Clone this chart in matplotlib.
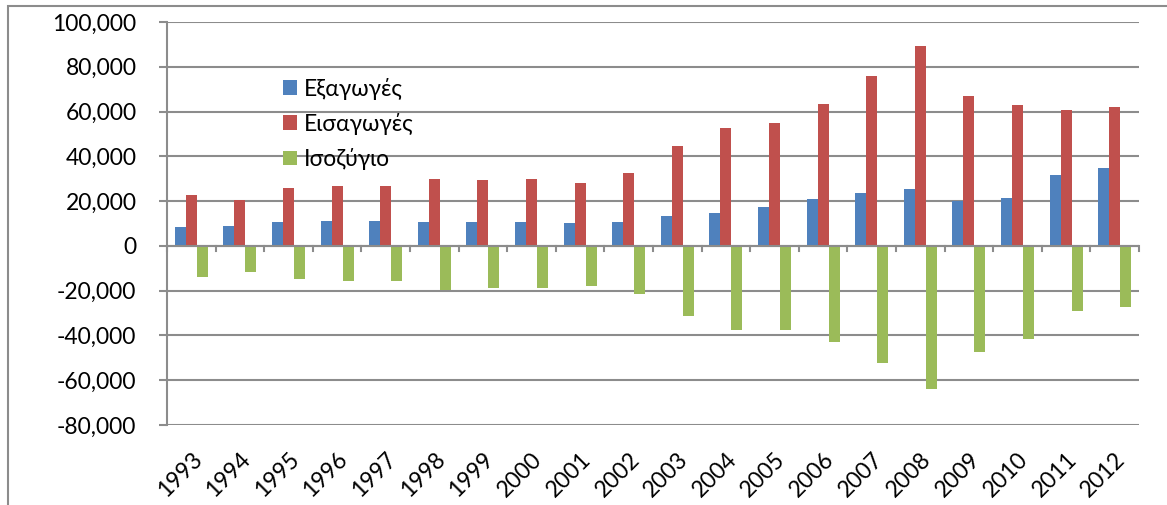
import numpy as np
import matplotlib.pyplot as plt
from matplotlib.patches import Rectangle
from matplotlib.ticker import FuncFormatter

years = [str(y) for y in range(1993, 2013)]
exports = [8.6, 9.1, 10.8, 11.2, 11.2, 10.7, 10.6, 10.6, 10.0, 10.6,
           13.4, 14.9, 17.3, 20.8, 23.4, 25.3, 20.0, 21.4, 31.5, 34.9]
imports = [22.8, 20.7, 25.7, 26.9, 26.9, 30.0, 29.5, 29.7, 27.9, 32.4,
           44.7, 52.5, 54.7, 63.4, 75.9, 89.2, 67.0, 63.1, 60.7, 62.1]
balance = [-14.0, -11.7, -15.0, -15.8, -15.9, -19.5, -19.0, -19.0, -18.0, -21.7,
           -31.3, -37.6, -37.4, -42.8, -52.5, -63.8, -47.3, -41.8, -29.0, -27.1]
labels = ['Εξαγωγές', 'Εισαγωγές', 'Ισοζύγιο']
colors = ['#4f81bd', '#c0504d', '#9bbb59']

plt.rcParams['font.family'] = ['Lato', 'DejaVu Sans']

fig = plt.figure(figsize=(11.67, 5.05), dpi=100)
ax = fig.add_axes([167 / 1167, 1 - 425 / 505, (1139 - 167) / 1167, (425 - 22) / 505])

x = np.arange(len(years))
w = 0.226
series = [np.array(exports) * 1000, np.array(imports) * 1000, np.array(balance) * 1000]
for i, (vals, lab, col) in enumerate(zip(series, labels, colors)):
    ax.bar(x + (i - 1) * w, vals, w, color=col, label=lab, zorder=3)

ax.set_xlim(-0.5, len(years) - 0.5)
ax.set_ylim(-80000, 100000)
ax.set_yticks(range(-80000, 100001, 20000))
ax.yaxis.set_major_formatter(FuncFormatter(lambda v, p: f'{int(v):,}'))
ax.grid(axis='y', color='#8c8c8c', linewidth=1.5, zorder=0)

for s in ['top', 'right', 'bottom']:
    ax.spines[s].set_visible(False)
ax.spines['left'].set_color('#8c8c8c')
ax.spines['left'].set_linewidth(1.5)
ax.axhline(0, color='#8c8c8c', linewidth=1.5, zorder=4)

# category boundary ticks on the zero line
for b in np.arange(-0.5, len(years), 1.0):
    ax.plot([b, b], [0, -2500], color='#8c8c8c', linewidth=1.5, zorder=4, clip_on=False)

ax.tick_params(axis='y', direction='out', length=6, width=1.5, color='#8c8c8c',
               labelsize=16.5, pad=16)
ax.set_xticks(x)
ax.set_xticklabels(years, rotation=45, ha='right', rotation_mode='anchor', fontsize=16.5)
ax.tick_params(axis='x', length=0, pad=17)

ax.legend(loc='upper left', bbox_to_anchor=(0.11, 0.885), frameon=False, fontsize=16.5,
          handlelength=0.6, handleheight=0.6, handletextpad=0.3, labelspacing=0.58,
          borderaxespad=0)

# outer chart border
fig.add_artist(Rectangle((8 / 1167, -0.1), 1.2, 1 - 6 / 505 + 0.1, transform=fig.transFigure,
                         fill=False, edgecolor='#8c8c8c', linewidth=1.5))

plt.savefig('out.png', dpi=100)
